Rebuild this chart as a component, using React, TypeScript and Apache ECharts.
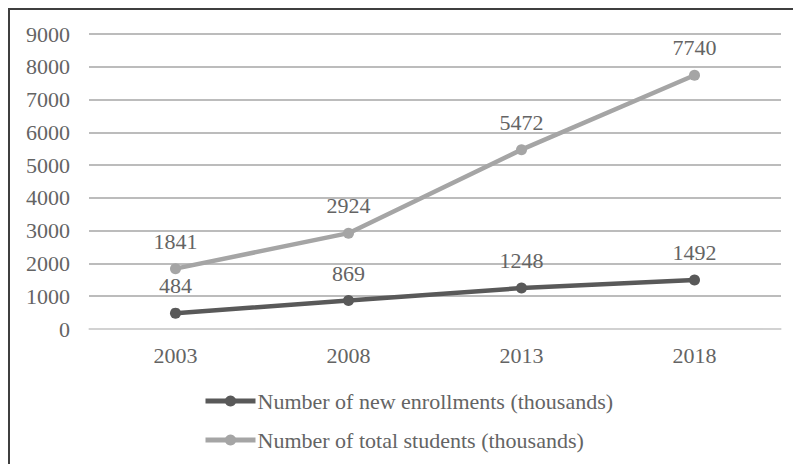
import React, { useEffect, useRef } from "react";
import * as echarts from "echarts";

const years = ["2003", "2008", "2013", "2018"];
const newEnrollments = [484, 869, 1248, 1492];
const totalStudents = [1841, 2924, 5472, 7740];
const seriesNames = [
  "Number of new enrollments (thousands)",
  "Number of total students (thousands)",
];

const FONT = "'Liberation Serif', serif";
const TEXT = "#646464";
const FS = 22;

export default function App() {
  const ref = useRef<HTMLDivElement>(null);
  useEffect(() => {
    if (!ref.current) return;
    const chart = echarts.init(ref.current, undefined, { renderer: "svg" });
    chart.setOption({
      animation: false,
      backgroundColor: "#ffffff",
      textStyle: { fontFamily: FONT, color: TEXT },
      graphic: [
        {
          type: "rect",
          shape: { x: 9, y: 9, width: 900, height: 600 },
          style: { fill: "none", stroke: "#3f3f3f", lineWidth: 2 },
          silent: true,
        },
      ],
      grid: { left: 89, right: 12, top: 34, bottom: 135 },
      xAxis: {
        type: "category",
        data: years,
        boundaryGap: true,
        axisLine: { lineStyle: { color: "#d9d9d9", width: 1.5 } },
        axisTick: { show: false },
        axisLabel: { color: TEXT, fontFamily: FONT, fontSize: FS, margin: 15 },
      },
      yAxis: {
        type: "value",
        min: 0,
        max: 9000,
        interval: 1000,
        axisLine: { show: false },
        axisTick: { show: false },
        axisLabel: {
          color: TEXT,
          fontFamily: FONT,
          fontSize: FS,
          margin: 19,
          formatter: (v: number) => String(v),
        },
        splitLine: { lineStyle: { color: "#a6a6a6", width: 1.5 } },
      },
      legend: {
        orient: "vertical",
        left: 198,
        top: 384,
        itemWidth: 50,
        itemHeight: 14,
        itemGap: 15,
        lineStyle: { width: 5 },
        textStyle: { color: TEXT, fontFamily: FONT, fontSize: FS, lineHeight: 24, padding: [0, 0, 0, -3] },
        data: seriesNames,
      },
      series: [
        {
          name: seriesNames[0],
          type: "line",
          data: newEnrollments,
          color: "#595959",
          symbol: "circle",
          symbolSize: 11,
          lineStyle: { width: 4.5, color: "#595959" },
          itemStyle: { color: "#595959" },
          label: {
            show: true,
            position: "top",
            distance: 11,
            color: TEXT,
            fontFamily: FONT,
            fontSize: FS,
          },
        },
        {
          name: seriesNames[1],
          type: "line",
          data: totalStudents,
          color: "#a5a5a5",
          symbol: "circle",
          symbolSize: 11,
          lineStyle: { width: 4.5, color: "#a5a5a5" },
          itemStyle: { color: "#a5a5a5" },
          label: {
            show: true,
            position: "top",
            distance: 11,
            color: TEXT,
            fontFamily: FONT,
            fontSize: FS,
          },
        },
      ],
    });
    return () => chart.dispose();
  }, []);
  return (
    <div
      ref={ref}
      style={{ position: "fixed", left: 0, top: 0, width: 793, height: 464 }}
    />
  );
}
